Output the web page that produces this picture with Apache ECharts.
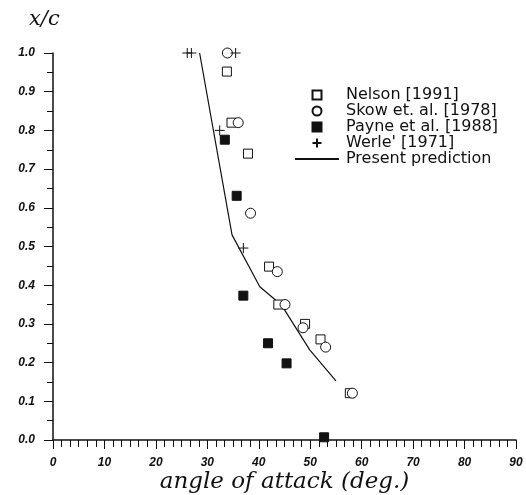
<!DOCTYPE html>
<html>
<head>
<meta charset="utf-8">
<script src="https://cdn.jsdelivr.net/npm/echarts@6/dist/echarts.min.js"></script>
<style>
  html, body { margin: 0; padding: 0; background: #fff; }
  #chart { width: 526px; height: 495px; }
</style>
</head>
<body>
<div id="chart"></div>
<script>
"use strict";

// [angle of attack (deg), x/c]
const nelson = [[33.8, 0.952], [34.7, 0.82], [37.9, 0.74], [42.0, 0.448], [43.8, 0.35],
  [49.0, 0.30], [52.0, 0.26], [57.7, 0.121]];
const skow = [[33.9, 1.0], [36.0, 0.82], [38.4, 0.586], [43.6, 0.435], [45.1, 0.35],
  [48.6, 0.29], [53.0, 0.24], [58.2, 0.121]];
const payne = [[33.4, 0.776], [35.7, 0.631], [37.0, 0.373], [41.8, 0.25], [45.4, 0.198],
  [52.7, 0.007]];
const werle = [[26.1, 1.0], [26.9, 1.0], [35.5, 1.0], [32.4, 0.80], [37.0, 0.496]];
const prediction = [[28.5, 1.0], [34.8, 0.53], [40.2, 0.396], [44.4, 0.349], [49.9, 0.233],
  [55.0, 0.153]];

const SQUARE = "path://M0,0L10,0L10,10L0,10Z";
const PLUS = "path://M0,5L10,5M5,0L5,10";
const INK = "#111";

const tickFont = {
  color: INK, fontStyle: "italic", fontWeight: "bold",
  fontFamily: "Liberation Sans", fontSize: 12,
};

function scatter(name, data, symbol, size, filled) {
  return {
    name, type: "scatter", data, symbol, symbolSize: size,
    itemStyle: {
      color: filled ? INK : "#fff", borderColor: INK, borderWidth: 1, opacity: 1,
    },
    emphasis: { disabled: true },
    z: 3,
  };
}

const chart = echarts.init(document.getElementById("chart"));
chart.setOption({
  animation: false,
  backgroundColor: "#fff",
  title: {
    text: "x/c", left: 24, top: 4,
    textStyle: { color: INK, fontFamily: "DejaVu Serif", fontStyle: "italic",
      fontWeight: "normal", fontSize: 21 },
  },
  legend: {
    orient: "vertical", left: 289, top: 82, itemWidth: 44, itemHeight: 9, itemGap: 0,
    textStyle: { color: INK, fontFamily: "DejaVu Sans", fontSize: 16, lineHeight: 15.7,
      padding: [0, 0, 0, 2] },
    data: [
      "Nelson [1991]", "Skow et. al. [1978]", "Payne et al. [1988]", "Werle' [1971]",
      { name: "Present prediction", itemStyle: { opacity: 0 } },
    ],
  },
  grid: { left: 53, right: 10, top: 53, bottom: 55, outerBoundsMode: "none" },
  xAxis: {
    type: "value", min: 0, max: 90, interval: 10,
    name: "angle of attack (deg.)", nameLocation: "middle", nameGap: 31,
    nameMoveOverlap: false,
    nameTextStyle: { color: INK, fontFamily: "DejaVu Serif", fontStyle: "italic", fontSize: 23 },
    axisLine: { lineStyle: { color: INK, width: 1.5 } },
    axisTick: { length: 9, lineStyle: { color: INK } },
    minorTick: { show: true, splitNumber: 6, length: 7, lineStyle: { color: INK } },
    axisLabel: { ...tickFont, margin: 17 },
    splitLine: { show: false },
  },
  yAxis: {
    type: "value", min: 0, max: 1, interval: 0.1,
    axisLine: { show: true, lineStyle: { color: INK, width: 1.5 } },
    axisTick: { show: true, length: 9, lineStyle: { color: INK } },
    minorTick: { show: true, splitNumber: 2, length: 6, lineStyle: { color: INK } },
    axisLabel: { ...tickFont, margin: 18, formatter: v => v.toFixed(1) },
    splitLine: { show: false },
  },
  series: [
    scatter("Nelson [1991]", nelson, SQUARE, 9, false),
    scatter("Skow et. al. [1978]", skow, "circle", 10, false),
    scatter("Payne et al. [1988]", payne, SQUARE, 9, true),
    scatter("Werle' [1971]", werle, PLUS, 10, false),
    {
      name: "Present prediction", type: "line", data: prediction, symbol: "none",
      lineStyle: { color: INK, width: 1.2 }, itemStyle: { color: INK },
      emphasis: { disabled: true }, z: 2,
    },
  ],
});
</script>
</body>
</html>
